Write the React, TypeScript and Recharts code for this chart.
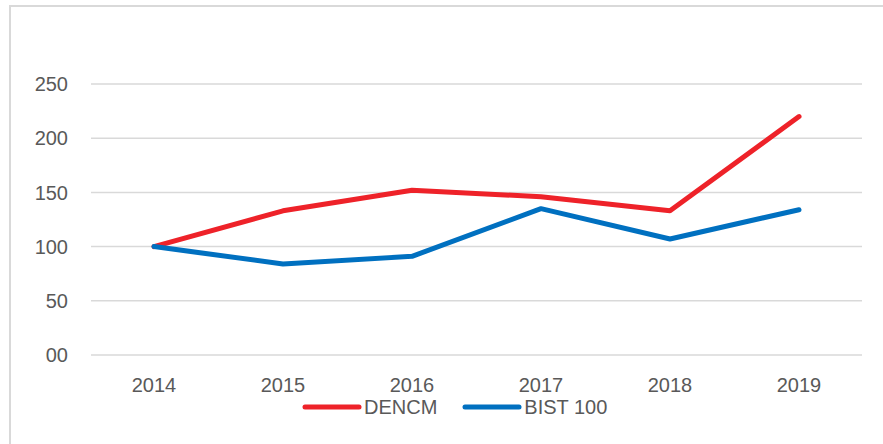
import React from 'react';
import {
  LineChart,
  Line,
  XAxis,
  YAxis,
  CartesianGrid
} from 'recharts';

const years = ['2014', '2015', '2016', '2017', '2018', '2019'];
const dencm = [100, 133, 152, 146, 133, 220];
const bist100 = [100, 84, 91, 135, 107, 134];
const yTicks = [0, 50, 100, 150, 200, 250];

const RED = '#EE2229';
const BLUE = '#0070C0';
const TEXT = '#595959';
const GRID = '#D9D9D9';
const FONT = '"Liberation Sans", Arial, sans-serif';

const series = [
  { key: 'DENCM', color: RED },
  { key: 'BIST 100', color: BLUE }
];

const chartData = years.map((year, i) => ({
  year,
  DENCM: dencm[i],
  'BIST 100': bist100[i]
}));

const formatY = (v: number) => (v === 0 ? '00' : String(v));

const ChartLegend = () => (
  <div
    style={{
      position: 'absolute',
      left: 302,
      top: 397,
      display: 'flex',
      alignItems: 'center',
      fontFamily: FONT,
      fontSize: 20,
      color: TEXT
    }}
  >
    {series.map((s, i) => (
      <div key={s.key} style={{ display: 'flex', alignItems: 'center', marginLeft: i === 0 ? 0 : 25 }}>
        <svg width={60} height={10} style={{ display: 'block' }}>
          <line x1={3} y1={5} x2={57} y2={5} stroke={s.color} strokeWidth={5} strokeLinecap="round" />
        </svg>
        <span style={{ marginLeft: 2, lineHeight: '20px' }}>{s.key}</span>
      </div>
    ))}
  </div>
);

const App: React.FC = () => {
  return (
    <div style={{ position: 'absolute', left: 0, top: 0, width: 883, height: 444, overflow: 'hidden', background: '#fff' }}>
      <div
        style={{
          position: 'absolute',
          left: 9,
          top: 5,
          width: 900,
          height: 460,
          border: `2px solid ${GRID}`
        }}
      />
      <LineChart
        width={883}
        height={444}
        data={chartData}
        margin={{ top: 84, right: 21, bottom: 59, left: 0 }}
        style={{ position: 'absolute', left: 0, top: 0 }}
      >
        <CartesianGrid vertical={false} stroke={GRID} strokeWidth={1.5} />
        <XAxis
          dataKey="year"
          height={30}
          axisLine={false}
          tickLine={false}
          padding={{ left: 63, right: 63 }}
          tickMargin={17}
          tick={{ fill: TEXT, fontSize: 20, fontFamily: FONT }}
        />
        <YAxis
          width={91}
          domain={[0, 250]}
          ticks={yTicks}
          tickFormatter={formatY}
          axisLine={false}
          tickLine={false}
          tickMargin={17}
          tick={{ fill: TEXT, fontSize: 20, fontFamily: FONT }}
        />
        {series.map((s) => (
          <Line
            key={s.key}
            type="linear"
            dataKey={s.key}
            stroke={s.color}
            strokeWidth={5}
            strokeLinecap="round"
            strokeLinejoin="round"
            dot={false}
            activeDot={false}
            isAnimationActive={false}
          />
        ))}
      </LineChart>
      <ChartLegend />
    </div>
  );
};

export default App;
